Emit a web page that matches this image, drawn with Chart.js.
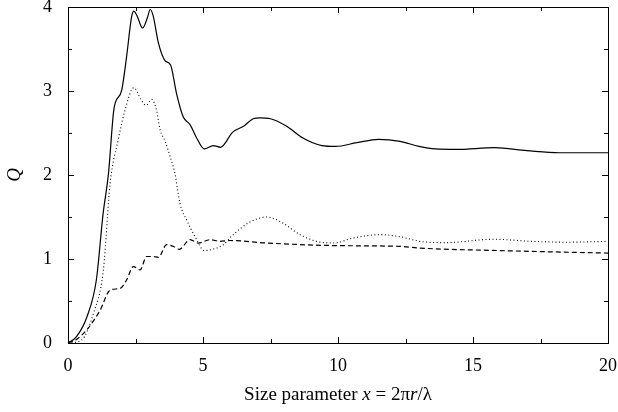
<!DOCTYPE html>
<html>
<head>
<meta charset="utf-8">
<script src="https://cdn.jsdelivr.net/npm/chart.js@4/dist/chart.umd.min.js"></script>
<style>
  html, body { margin: 0; padding: 0; background: #fff; }
  #wrap { width: 618px; height: 412px; position: relative; }
</style>
</head>
<body>
<div id="wrap"><canvas id="chart"></canvas></div>
<script>
// extinction efficiency (solid)
const extX = [0, 0.3, 0.7, 1.05, 1.3, 1.5, 1.68, 1.74, 1.99, 2.17, 2.36, 2.44, 2.55, 2.76, 2.95, 3.04, 3.15, 3.35, 3.6, 3.8, 4.02, 4.27, 4.52, 4.75, 5.05, 5.38, 5.65, 6.1, 6.5, 6.86, 7.1, 7.5, 8.1, 8.7, 9.4, 9.9, 10.7, 11.5, 12.3, 13.0, 13.6, 14.4, 15.8, 17.0, 18.2, 20];
const extY = [0, 0.07, 0.31, 0.75, 1.54, 2.02, 2.73, 2.85, 3.01, 3.41, 3.89, 3.95, 3.9, 3.75, 3.88, 3.97, 3.9, 3.57, 3.36, 3.31, 2.97, 2.69, 2.6, 2.45, 2.31, 2.35, 2.33, 2.51, 2.58, 2.67, 2.68, 2.67, 2.58, 2.44, 2.35, 2.34, 2.385, 2.425, 2.40, 2.34, 2.31, 2.305, 2.325, 2.29, 2.265, 2.265];

// scattering efficiency (dotted)
const scaX = [0, 0.5, 0.94, 1.31, 1.56, 1.86, 2.11, 2.44, 2.7, 2.89, 3.1, 3.28, 3.41, 3.6, 3.78, 3.96, 4.15, 4.4, 4.7, 5.05, 5.4, 5.75, 6.12, 6.74, 7.36, 7.97, 8.59, 9.21, 9.83, 10.57, 11.56, 12.3, 13.04, 14.0, 15.75, 17.2, 18.5, 20];
const scaY = [0, 0.035, 0.35, 0.87, 1.9, 2.42, 2.77, 3.04, 2.9, 2.83, 2.9, 2.77, 2.54, 2.4, 2.22, 2.02, 1.66, 1.46, 1.27, 1.10, 1.12, 1.17, 1.29, 1.44, 1.50, 1.425, 1.29, 1.21, 1.19, 1.25, 1.29, 1.265, 1.21, 1.195, 1.235, 1.21, 1.2, 1.21];

// absorption efficiency (dashed)
const absX = [0, 0.3, 0.69, 1.19, 1.56, 1.93, 2.17, 2.42, 2.67, 2.91, 3.15, 3.35, 3.65, 3.9, 4.12, 4.52, 4.83, 5.26, 5.63, 6.0, 7.36, 9.83, 12.3, 13.04, 16.0, 20];
const absY = [0, 0.04, 0.155, 0.39, 0.63, 0.65, 0.75, 0.91, 0.87, 1.03, 1.03, 1.02, 1.17, 1.15, 1.115, 1.23, 1.19, 1.23, 1.21, 1.22, 1.19, 1.16, 1.15, 1.13, 1.10, 1.07];

const xMajor = [0, 5, 10, 15, 20];
const xMinor = [2.5, 7.5, 12.5, 17.5];
const yMajor = [0, 1, 2, 3, 4];
const yMinor = [0.5, 1.5, 2.5, 3.5];

const pts = (xs, ys) => xs.map((x, i) => ({ x, y: ys[i] }));
const serif = '"Liberation Serif", "DejaVu Serif", serif';

// box around the plot with inward ticks on all four sides
const framePlugin = {
  id: 'frame',
  afterDatasetsDraw(chart) {
    const { ctx, chartArea: a, scales } = chart;
    ctx.save();
    ctx.strokeStyle = '#000';
    ctx.lineWidth = 1;
    ctx.beginPath();
    const tick = (vals, len) => {
      vals.forEach(v => {
        const px = Math.round(scales.x.getPixelForValue(v)) + 0.5;
        ctx.moveTo(px, a.bottom); ctx.lineTo(px, a.bottom - len);
        ctx.moveTo(px, a.top); ctx.lineTo(px, a.top + len);
      });
    };
    const ytick = (vals, len) => {
      vals.forEach(v => {
        const py = Math.round(scales.y.getPixelForValue(v)) + 0.5;
        ctx.moveTo(a.left, py); ctx.lineTo(a.left + len, py);
        ctx.moveTo(a.right, py); ctx.lineTo(a.right - len, py);
      });
    };
    tick(xMajor, 6); tick(xMinor, 4);
    ytick(yMajor, 6); ytick(yMinor, 4);
    ctx.stroke();
    ctx.strokeRect(Math.round(a.left) + 0.5, Math.round(a.top) + 0.5,
      Math.round(a.right - a.left), Math.round(a.bottom - a.top));
    ctx.restore();
  },
  afterDraw(chart) {
    // x axis title with italic symbols
    const { ctx, chartArea: a } = chart;
    const parts = [['Size parameter ', false], ['x', true], [' = 2\u03c0', false], ['r', true], ['/\u03bb', false]];
    ctx.save();
    ctx.fillStyle = '#000';
    ctx.textBaseline = 'middle';
    const font = it => (it ? 'italic ' : '') + '19px ' + serif;
    let w = 0;
    parts.forEach(([t, it]) => { ctx.font = font(it); w += ctx.measureText(t).width; });
    let x = (a.left + a.right) / 2 - w / 2;
    parts.forEach(([t, it]) => {
      ctx.font = font(it);
      ctx.fillText(t, x, 395);
      x += ctx.measureText(t).width;
    });
    ctx.restore();
  }
};

new Chart(document.getElementById('chart'), {
  type: 'line',
  data: {
    datasets: [
      { label: 'Q ext', data: pts(extX, extY), borderColor: '#000', borderWidth: 1.2 },
      { label: 'Q sca', data: pts(scaX, scaY), borderColor: '#000', borderWidth: 1.1, borderDash: [1, 2.5] },
      { label: 'Q abs', data: pts(absX, absY), borderColor: '#000', borderWidth: 1.2, borderDash: [5, 3] }
    ]
  },
  options: {
    responsive: true,
    maintainAspectRatio: false,
    animation: false,
    elements: { point: { radius: 0 }, line: { cubicInterpolationMode: 'monotone' } },
    layout: { padding: { top: 7, right: 10, left: 0, bottom: 0 } },
    plugins: { legend: { display: false }, tooltip: { enabled: false } },
    scales: {
      x: {
        type: 'linear', min: 0, max: 20,
        grid: { display: false, drawTicks: false },
        border: { display: false },
        ticks: { stepSize: 5, color: '#000', padding: 12, font: { family: serif, size: 18 }, maxRotation: 0 },
        afterFit: s => { s.height = 69; s.paddingLeft = 0; s.paddingRight = 0; }
      },
      y: {
        min: 0, max: 4,
        grid: { display: false, drawTicks: false },
        border: { display: false },
        ticks: { stepSize: 1, color: '#000', padding: 16, font: { family: serif, size: 18 } },
        title: { display: true, text: 'Q', color: '#000', padding: { top: 4, bottom: 0 }, font: { family: serif, size: 19, style: 'italic' } },
        afterFit: s => { s.width = 68; s.paddingTop = 0; s.paddingBottom = 0; }
      }
    }
  },
  plugins: [framePlugin]
});
</script>
</body>
</html>
